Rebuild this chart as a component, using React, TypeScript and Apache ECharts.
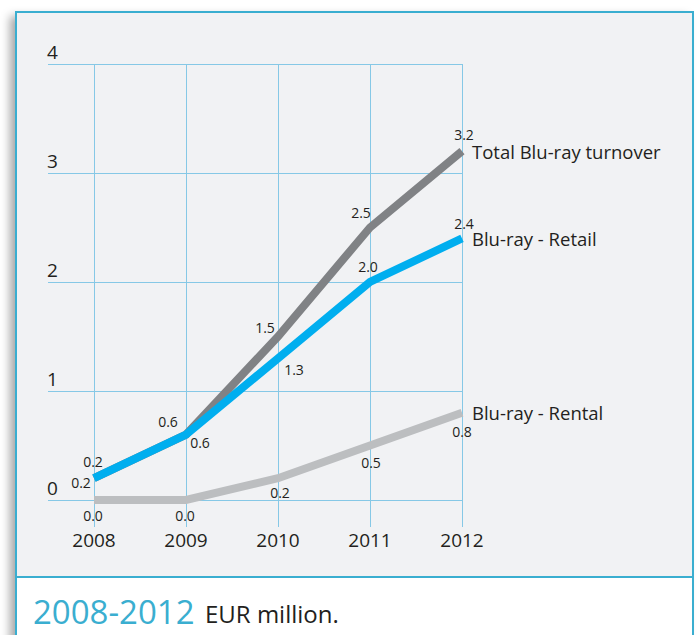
import React, { useEffect, useRef } from "react";
import * as echarts from "echarts";

const years = [2008, 2009, 2010, 2011, 2012];
const yTicks = [0, 1, 2, 3, 4];
const totalValues = [0.2, 0.6, 1.5, 2.5, 3.2];
const retailValues = [0.2, 0.6, 1.3, 2.0, 2.4];
const rentalValues = [0.0, 0.0, 0.2, 0.5, 0.8];
const seriesNames = ["Total Blu-ray turnover", "Blu-ray - Retail", "Blu-ray - Rental"];
const footerTitle = "2008-2012";
const footerUnit = "EUR million.";

// label offsets (pixel styling, not data)
const totalOffsets = [[-1, -17], [-18, -13], [-13, -9], [-9, -15], [2, -17]];
const retailOffsets = [[-13, 4], [14, 8], [16, 11], [-2, -16], [2, -15]];
const rentalOffsets = [[-1, 15], [-1, 15], [2, 14], [1, 17], [0, 19]];

const FONT = "'Open Sans', 'Noto Sans', sans-serif";
const TEXT = "#231f20";
const GRID = "#86c8e6";
const FRAME = "#3aaed0";

function buildData(values: number[], offsets: number[][]) {
  return values.map((v, i) => ({
    value: [years[i], v],
    label: { offset: offsets[i] },
  }));
}

export default function App() {
  const ref = useRef<HTMLDivElement>(null);
  useEffect(() => {
    if (!ref.current) return;
    const chart = echarts.init(ref.current, null, { renderer: "svg" });
    const makeSeries = (name: string, values: number[], offsets: number[][], color: string, z: number) => ({
      type: "line",
      name,
      z,
      data: buildData(values, offsets),
      symbol: "circle",
      symbolSize: 1,
      showSymbol: true,
      itemStyle: { color: "rgba(0,0,0,0)" },
      lineStyle: { color, width: 8, cap: "butt", join: "miter" },
      label: {
        show: true,
        position: "inside",
        fontFamily: FONT,
        fontSize: 14,
        color: TEXT,
        formatter: (p: any) => Number(p.value[1]).toFixed(1),
      },
      endLabel: {
        show: true,
        formatter: "{a}",
        distance: 10,
        fontFamily: FONT,
        fontSize: 18.5,
        color: TEXT,
      },
      emphasis: { disabled: true },
    });
    const option: any = {
      animation: false,
      grid: { left: 48, right: 235, top: 64, bottom: 135, containLabel: false },
      xAxis: {
        type: "value",
        min: 2007.5,
        max: 2012,
        axisLine: { show: false },
        axisTick: {
          show: true,
          customValues: years,
          length: 27,
          lineStyle: { color: GRID, width: 1 },
        },
        axisLabel: {
          customValues: years,
          margin: 30,
          fontFamily: FONT,
          fontSize: 19,
          color: TEXT,
          formatter: (v: number) => String(v),
        },
        splitLine: { show: true, lineStyle: { color: GRID, width: 1 } },
      },
      yAxis: {
        type: "value",
        min: yTicks[0],
        max: yTicks[yTicks.length - 1],
        interval: 1,
        axisLine: { show: false },
        axisTick: { show: false },
        axisLabel: {
          align: "left",
          verticalAlign: "bottom",
          margin: 1,
          padding: [0, 0, 3, 0],
          fontFamily: FONT,
          fontSize: 19,
          color: TEXT,
        },
        splitLine: { show: true, lineStyle: { color: GRID, width: 1 } },
      },
      series: [
        makeSeries(seriesNames[0], totalValues, totalOffsets, "#808285", 3),
        makeSeries(seriesNames[2], rentalValues, rentalOffsets, "#bcbec0", 4),
        makeSeries(seriesNames[1], retailValues, retailOffsets, "#00aeef", 5),
      ],
      graphic: [
        {
          type: "rect",
          z: -20,
          silent: true,
          shape: { x: 16, y: 12, width: 677, height: 640 },
          style: {
            fill: "#ffffff",
            shadowBlur: 10,
            shadowOffsetX: -6,
            shadowOffsetY: 4,
            shadowColor: "rgba(0,0,0,0.35)",
          },
        },
        {
          type: "rect",
          z: -19,
          silent: true,
          shape: { x: 16, y: 12, width: 677, height: 565 },
          style: { fill: "#f1f2f4" },
        },
        {
          type: "rect",
          z: 100,
          silent: true,
          shape: { x: 16, y: 12, width: 677, height: 640 },
          style: { fill: "none", stroke: FRAME, lineWidth: 2 },
        },
        {
          type: "line",
          z: 100,
          silent: true,
          shape: { x1: 16, y1: 577, x2: 693, y2: 577 },
          style: { stroke: FRAME, lineWidth: 2 },
        },
        {
          type: "text",
          z: 100,
          silent: true,
          x: 33,
          y: 611,
          style: {
            text: footerTitle,
            fontFamily: FONT,
            fontSize: 33,
            fill: FRAME,
            verticalAlign: "middle",
          },
        },
        {
          type: "text",
          z: 100,
          silent: true,
          x: 205,
          y: 613,
          style: {
            text: footerUnit,
            fontFamily: FONT,
            fontSize: 24,
            fill: TEXT,
            verticalAlign: "middle",
          },
        },
      ],
    };
    chart.setOption(option);
    return () => chart.dispose();
  }, []);
  return (
    <div style={{ position: "absolute", left: 0, top: 0, width: 697, height: 635, background: "#ffffff" }}>
      <div ref={ref} style={{ width: 697, height: 635 }} />
    </div>
  );
}
